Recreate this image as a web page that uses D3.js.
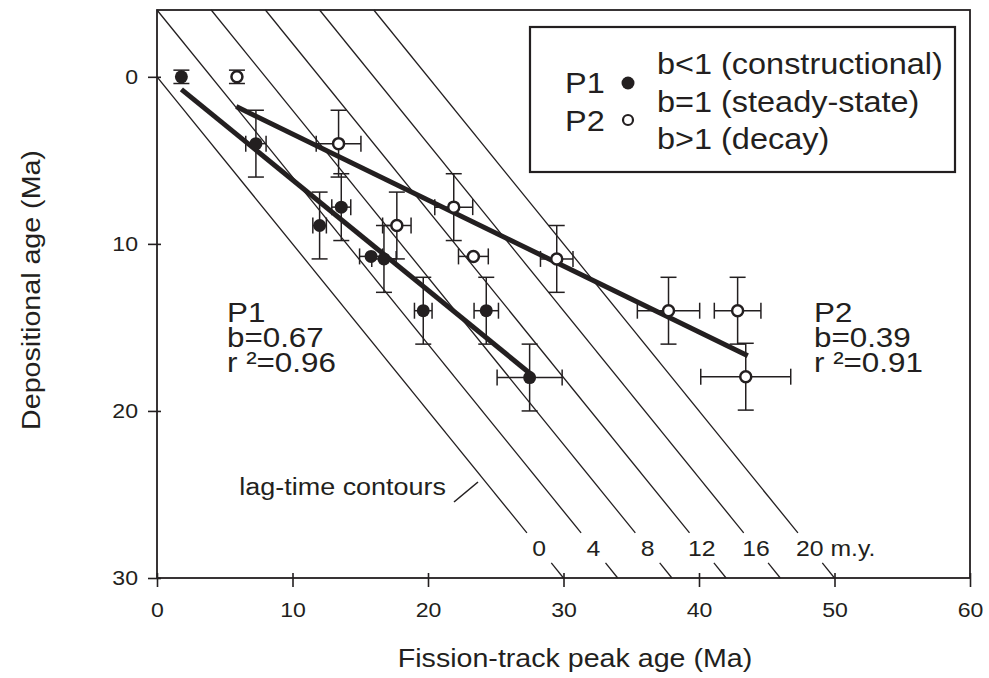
<!DOCTYPE html>
<html>
<head>
<meta charset="utf-8">
<script src="https://cdn.jsdelivr.net/npm/d3@7"></script>
<style>
  html, body { margin: 0; padding: 0; background: #fff; }
  svg text { font-family: "Liberation Sans", Arial, sans-serif; fill: #231f20; }
</style>
</head>
<body>
<svg id="chart" width="989" height="678"></svg>
<script>
// ---- data ----
const xTicks = [0, 10, 20, 30, 40, 50, 60];
const yTicks = [0, 10, 20, 30];

const p1X    = [1.8, 7.3, 12.0, 13.6, 15.8, 16.75, 19.65, 24.3, 27.5];
const p1Y    = [0, 4, 8.9, 7.8, 10.75, 10.9, 14, 14, 18];
const p1XErr = [0, 0.75, 0.5, 0.7, 0.85, 0.9, 0.65, 0.9, 2.4];
const p1YErr = [0.4, 2, 2, 2, 0, 2, 2, 2, 2];

const p2X    = [5.9, 13.4, 17.7, 21.9, 23.35, 29.5, 37.75, 42.85, 43.45];
const p2Y    = [0, 4, 8.9, 7.8, 10.75, 10.9, 14, 14, 17.95];
const p2XErr = [0, 1.65, 1.05, 1.4, 1.1, 1.2, 2.3, 1.72, 3.32];
const p2YErr = [0.4, 2, 2, 2, 0, 2, 2, 2, 2];

const fitP1X = [1.8, 27.6];
const fitP1Y = [0.75, 17.8];
const fitP2X = [5.85, 43.6];
const fitP2Y = [1.78, 16.7];

const lagValues = [0, 4, 8, 12, 16, 20];
const lagLabels = ["0", "4", "8", "12", "16", "20 m.y."];

const legendSeries = ["P1", "P2"];
const legendNotes = ["b<1 (constructional)", "b=1 (steady-state)", "b>1 (decay)"];

const p1Notes = ["P1", "b=0.67", "r \u00B2=0.96"];
const p2Notes = ["P2", "b=0.39", "r \u00B2=0.91"];

// ---- chart ----
const ink = "#231f20";
const SX = 1.1; // horizontal stretch of lettering in the reference
const svg = d3.select("#chart");
const x = d3.scaleLinear().domain([0, 60]).range([157, 970]);
const y = d3.scaleLinear().domain([-4, 30]).range([10, 578]);

function label(parent, tx, ty, str, size, anchor) {
  return parent.append("text")
    .attr("transform", `translate(${tx},${ty}) scale(${SX},1)`)
    .attr("text-anchor", anchor || "start")
    .attr("font-size", size)
    .text(str);
}

// frame
svg.append("rect")
  .attr("x", x(0)).attr("y", y(-4))
  .attr("width", x(60) - x(0)).attr("height", y(30) - y(-4))
  .attr("fill", "none").attr("stroke", ink).attr("stroke-width", 1.8);

// axes
const xAxis = svg.append("g").attr("transform", `translate(0,${y(30)})`)
  .call(d3.axisBottom(x).tickValues(xTicks).tickSize(9).tickPadding(15).tickFormat(d3.format("d")));
const yAxis = svg.append("g").attr("transform", `translate(${x(0)},0)`)
  .call(d3.axisLeft(y).tickValues(yTicks).tickSize(9).tickPadding(10).tickFormat(d3.format("d")));
[xAxis, yAxis].forEach(g => {
  g.select(".domain").remove();
  g.selectAll(".tick line").attr("stroke", ink).attr("stroke-width", 1.6);
  g.selectAll(".tick text").attr("font-size", 21)
    .style("font-family", '"Liberation Sans", Arial, sans-serif').attr("fill", ink);
});
xAxis.selectAll(".tick text").attr("transform", `scale(${SX},1)`);
yAxis.selectAll(".tick text").attr("x", null)
  .attr("transform", `translate(-19,0) scale(${SX},1)`);
// ticks extend a little inside
xAxis.selectAll(".tick line").attr("y1", -5);
yAxis.selectAll(".tick line").attr("x1", 4);

// lag-time contours (x = y + lag), broken around labels
const gapTop = 27.3, gapBot = 29.1;
const contours = svg.append("g");
lagValues.forEach((L, i) => {
  const y0 = Math.max(-4, -L);
  contours.append("line")
    .attr("x1", x(y0 + L)).attr("y1", y(y0))
    .attr("x2", x(gapTop + L)).attr("y2", y(gapTop))
    .attr("stroke", ink).attr("stroke-width", 1.3);
  contours.append("line")
    .attr("x1", x(gapBot + L)).attr("y1", y(gapBot))
    .attr("x2", x(30 + L)).attr("y2", y(30))
    .attr("stroke", ink).attr("stroke-width", 1.3);
  if (i < lagValues.length - 1) {
    label(contours, x(28.2 + L), y(28.2) + 8, lagLabels[i], 22.5, "middle");
  } else {
    label(contours, x(28.2 + L) - 14, y(28.2) + 8, lagLabels[i], 22.5, "start");
  }
});

// lag-time contours label with leader
label(svg, 446, 495, "lag-time contours", 24.5, "end");
svg.append("line").attr("x1", 454).attr("y1", 502).attr("x2", 478).attr("y2", 482)
  .attr("stroke", ink).attr("stroke-width", 1.6);

// error bars
function drawErrors(xs, ys, xe, ye) {
  const g = svg.append("g").attr("stroke", ink).attr("stroke-width", 1.5).attr("fill", "none");
  const cap = 8;
  xs.forEach((xv, i) => {
    const yv = ys[i];
    if (ye[i] > 0) {
      g.append("line").attr("x1", x(xv)).attr("x2", x(xv)).attr("y1", y(yv - ye[i])).attr("y2", y(yv + ye[i]));
      g.append("line").attr("x1", x(xv) - cap).attr("x2", x(xv) + cap).attr("y1", y(yv - ye[i])).attr("y2", y(yv - ye[i]));
      g.append("line").attr("x1", x(xv) - cap).attr("x2", x(xv) + cap).attr("y1", y(yv + ye[i])).attr("y2", y(yv + ye[i]));
    }
    if (xe[i] > 0) {
      g.append("line").attr("x1", x(xv - xe[i])).attr("x2", x(xv + xe[i])).attr("y1", y(yv)).attr("y2", y(yv));
      g.append("line").attr("x1", x(xv - xe[i])).attr("x2", x(xv - xe[i])).attr("y1", y(yv) - cap).attr("y2", y(yv) + cap);
      g.append("line").attr("x1", x(xv + xe[i])).attr("x2", x(xv + xe[i])).attr("y1", y(yv) - cap).attr("y2", y(yv) + cap);
    }
  });
}
drawErrors(p1X, p1Y, p1XErr, p1YErr);
drawErrors(p2X, p2Y, p2XErr, p2YErr);

// regression lines
const line = d3.line().x(d => x(d[0])).y(d => y(d[1]));
svg.append("path").datum(fitP1X.map((v, i) => [v, fitP1Y[i]]))
  .attr("d", line).attr("stroke", ink).attr("stroke-width", 5).attr("fill", "none");
svg.append("path").datum(fitP2X.map((v, i) => [v, fitP2Y[i]]))
  .attr("d", line).attr("stroke", ink).attr("stroke-width", 5).attr("fill", "none");

// markers
svg.append("g").selectAll("circle").data(p1X).join("circle")
  .attr("cx", d => x(d)).attr("cy", (d, i) => y(p1Y[i])).attr("r", 6.5)
  .attr("fill", ink);
svg.append("g").selectAll("circle").data(p2X).join("circle")
  .attr("cx", d => x(d)).attr("cy", (d, i) => y(p2Y[i])).attr("r", 5.5)
  .attr("fill", "#fff").attr("stroke", ink).attr("stroke-width", 2.5);

// annotations
function notes(arr, x0, yb) {
  arr.forEach((t, i) => label(svg, x0, yb + i * 25, t, 28.5, "start"));
}
notes(p1Notes, 227, 322);
notes(p2Notes, 814, 322);

// legend
svg.append("rect").attr("x", 530).attr("y", 27).attr("width", 425).attr("height", 145)
  .attr("fill", "#fff").attr("stroke", ink).attr("stroke-width", 2.2);
legendSeries.forEach((s, i) => label(svg, 565, 93 + i * 38, s, 29.5, "start"));
svg.append("circle").attr("cx", 628).attr("cy", 83).attr("r", 6.5).attr("fill", ink);
svg.append("circle").attr("cx", 628).attr("cy", 120).attr("r", 5).attr("fill", "#fff")
  .attr("stroke", ink).attr("stroke-width", 2.2);
legendNotes.forEach((t, i) => label(svg, 657, 74 + i * 37.5, t, 29.5, "start"));

// axis titles
label(svg, 575, 667, "Fission-track peak age (Ma)", 26, "middle");
svg.append("text")
  .attr("transform", `translate(40,290) rotate(-90) scale(${SX},1)`)
  .attr("text-anchor", "middle").attr("font-size", 26)
  .text("Depositional age (Ma)");
</script>
</body>
</html>
